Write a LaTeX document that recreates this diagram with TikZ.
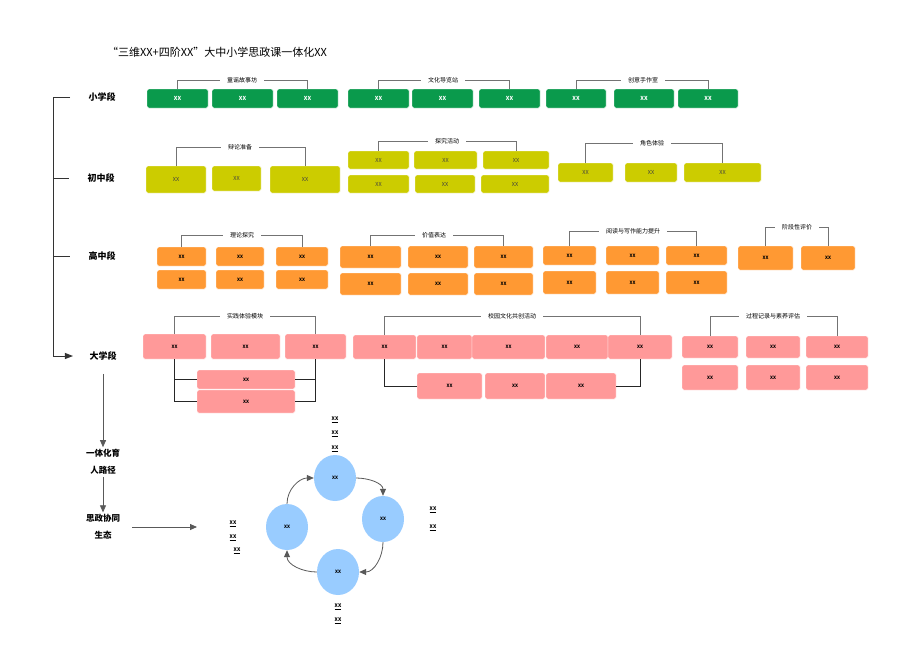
\documentclass[tikz,border=0pt]{standalone}
\usepackage{fontspec}
\setmainfont{Noto Sans CJK SC}
\usetikzlibrary{arrows.meta,shapes.geometric}

\definecolor{grn}{HTML}{0A9A4C}
\definecolor{olv}{HTML}{CCCC00}
\definecolor{org}{HTML}{FF9933}
\definecolor{pnk}{HTML}{FF9999}
\definecolor{blu}{HTML}{99CCFF}

% box from (x1,y1) to (x2,y2): style, name, x1, y1, x2, y2
\newcommand\blk[6]{\node[#1,minimum width={#5-#3},minimum height={#6-#4}] (#2) at ({(#3+#5)/2},{(#4+#6)/2}) {XX};}
% group caption over two boxes: name, text, left box, right box, x, y
\newcommand\grp[6]{\node[grplbl] (#1) at (#5,#6) {#2};
  \draw[brk] (#3.north) |- (#1.west);
  \draw[brk] (#4.north) |- (#1.east);}

\begin{document}
\begin{tikzpicture}[x=1pt,y=-1pt,
  box/.style={draw=white,line width=0.4pt,rounded corners=1.5pt,inner sep=0pt,outer sep=0pt},
  gbox/.style={box,fill=grn,text=white,font=\fontsize{5.5}{6}\selectfont\bfseries},
  ybox/.style={box,fill=olv,text=black!75,font=\fontsize{5.5}{6}\selectfont},
  obox/.style={box,fill=org,font=\fontsize{4.5}{5}\selectfont\bfseries},
  pbox/.style={box,fill=pnk,font=\fontsize{4.5}{5}\selectfont\bfseries},
  grplbl/.style={font=\fontsize{6}{7}\selectfont,inner xsep=7pt,inner ysep=1pt},
  brk/.style={draw=black!55,line width=0.7pt},
  stage/.style={font=\fontsize{9}{10}\selectfont\bfseries},
  route/.style={font=\fontsize{8.5}{17}\selectfont\bfseries,align=center,inner sep=2pt},
  trunk/.style={draw=black!80,line width=1pt},
  tie/.style={draw=black!85,line width=1pt},
  flow/.style={draw=black!65,line width=0.8pt,-{Triangle[length=7pt,width=6pt]}},
  ring/.style={ellipse,fill=blu,minimum width=42,minimum height=46,inner sep=0pt,font=\fontsize{4.5}{5}\selectfont\bfseries},
  tagxx/.style={font=\fontsize{5}{6}\selectfont\bfseries,inner sep=1pt}]

\useasboundingbox (0,0) rectangle (907,669);
\fill[white] (0,0) rectangle (907,669);

\node[font=\fontsize{11}{13}\selectfont] (title) at (217,52) {“三维XX+四阶XX”大中小学思政课一体化XX};

% stages
\node[stage] (s1) at (102,97) {小学段};
\node[stage] (s2) at (101,178) {初中段};
\node[stage] (s3) at (102,256) {高中段};
\node[stage] (s4) at (103,356) {大学段};

\coordinate (k0) at (70,97);
\coordinate (k3) at (53,356);
\draw[trunk,-{Triangle[length=8pt,width=6pt]}] (k0) -| (k3) -- ([xshift=-13pt]s4.west);
\draw[trunk] (k3 |- s2) -- ++(16,0);
\draw[trunk] (k3 |- s3) -- ++(17,0);

% primary school
\foreach \n/\a/\b in {g1/147/208,g2/212/273,g3/277/338,g4/348/409,g5/412/473,g6/479/540,g7/546/606,g8/614/674,g9/678/738}
  \blk{gbox}{\n}{\a}{89}{\b}{108};
\grp{c11}{童谣故事坊}{g1}{g3}{242}{80}
\grp{c12}{文化导览站}{g4}{g6}{443}{80}
\grp{c13}{创意手作室}{g7}{g9}{643}{80}

% junior middle school
\blk{ybox}{y1}{146}{166}{206}{193}
\blk{ybox}{y2}{212}{166}{261}{191}
\blk{ybox}{y3}{270}{166}{340}{193}
\foreach \n/\a/\b/\c/\d in {y4/348/151/409/169,y5/414/151/477/169,y6/483/151/549/169,
    y7/348/175/409/193,y8/415/175/475/193,y9/481/175/549/193,
    y10/558/163/613/182,y11/625/163/677/182,y12/684/163/761/182}
  \blk{ybox}{\n}{\a}{\b}{\c}{\d};
\grp{c21}{辩论准备}{y1}{y3}{240}{147}
\grp{c22}{探究活动}{y4}{y6}{447}{141}
\grp{c23}{角色体验}{y10}{y12}{652}{143}

% senior high school
\foreach \n/\a/\b/\c/\d in {o1/157/247/206/266,o2/216/247/264/266,o3/276/247/328/266,
    o4/157/270/206/289,o5/216/270/264/289,o6/276/270/328/289,
    o7/340/246/401/268,o8/408/246/468/268,o9/474/246/533/268,
    o10/340/273/401/295,o11/408/273/468/295,o12/474/273/533/295,
    o13/543/246/596/265,o14/606/246/659/265,o15/666/246/727/265,
    o16/543/271/596/294,o17/606/271/659/294,o18/666/271/727/294,
    o19/738/246/793/270,o20/801/246/855/270}
  \blk{obox}{\n}{\a}{\b}{\c}{\d};
\grp{c31}{理论探究}{o1}{o3}{242}{235}
\grp{c32}{价值表达}{o7}{o9}{434}{235}
\grp{c33}{阅读与写作能力提升}{o13}{o15}{633}{231}
\grp{c34}{阶段性评价}{o19}{o20}{797}{227}

% university
\foreach \n/\a/\b/\c/\d in {p1/143/334/206/359,p2/211/334/280/359,p3/285/334/346/359,
    p4/197/370/295/389,p5/197/390/295/413,
    p6/353/335/416/359,p7/417/335/472/359,p8/472/335/545/359,p9/546/335/608/359,p10/608/335/672/359,
    p11/417/373/482/399,p12/485/373/545/399,p13/546/373/616/399,
    p14/682/336/738/358,p15/746/336/800/358,p16/806/336/868/358,
    p17/682/365/738/390,p18/746/365/800/390,p19/806/365/868/390}
  \blk{pbox}{\n}{\a}{\b}{\c}{\d};
\grp{c41}{实践体验模块}{p1}{p3}{245}{316}
\grp{c42}{校园文化共创活动}{p6}{p10}{512}{316}
\grp{c43}{过程记录与素养评估}{p14}{p16}{773}{316}

\draw[tie] (p1.south) |- (p4.west);
\draw[tie] (p1.south) |- (p5.west);
\draw[tie] (p3.south) |- (p4.east);
\draw[tie] (p3.south) |- (p5.east);
\draw[tie] (p6.south) |- (p11.west);
\draw[tie] (p10.south) |- (p13.east);

% path to the ecology
\node[route] (r1) at (103,462) {一体化育\\人路径};
\node[route] (r2) at (103,527) {思政协同\\生态};
\coordinate (hx) at (197,527);
\draw[flow,shorten <=10pt] (s4.south) -- (r1.north);
\draw[flow] (r1.south) -- (r2.north);
\draw[flow,shorten <=10pt] (r2.east) -- (hx);

% cycle
\node[ring] (e1) at (335,478) {XX};
\node[ring] (e2) at (383,519) {XX};
\node[ring] (e3) at (338,572) {XX};
\node[ring] (e4) at (287,527) {XX};
\draw[flow] (e4.north) to[out=90,in=180] (e1.west);
\draw[flow] (e1.east) to[out=0,in=90] (e2.north);
\draw[flow] (e2.south) to[out=-90,in=0] (e3.east);
\draw[flow] (e3.west) to[out=180,in=-90] (e4.south);

\foreach \n/\a/\b in {t1/335/420,t2/335/434,t3/335/449,t4/233/524,t5/233/538,t6/237/551,
    t7/433/510,t8/433/528,t9/338/607,t10/338/621}
  \node[tagxx] (\n) at (\a,\b) {\underline{XX}};
\end{tikzpicture}
\end{document}
